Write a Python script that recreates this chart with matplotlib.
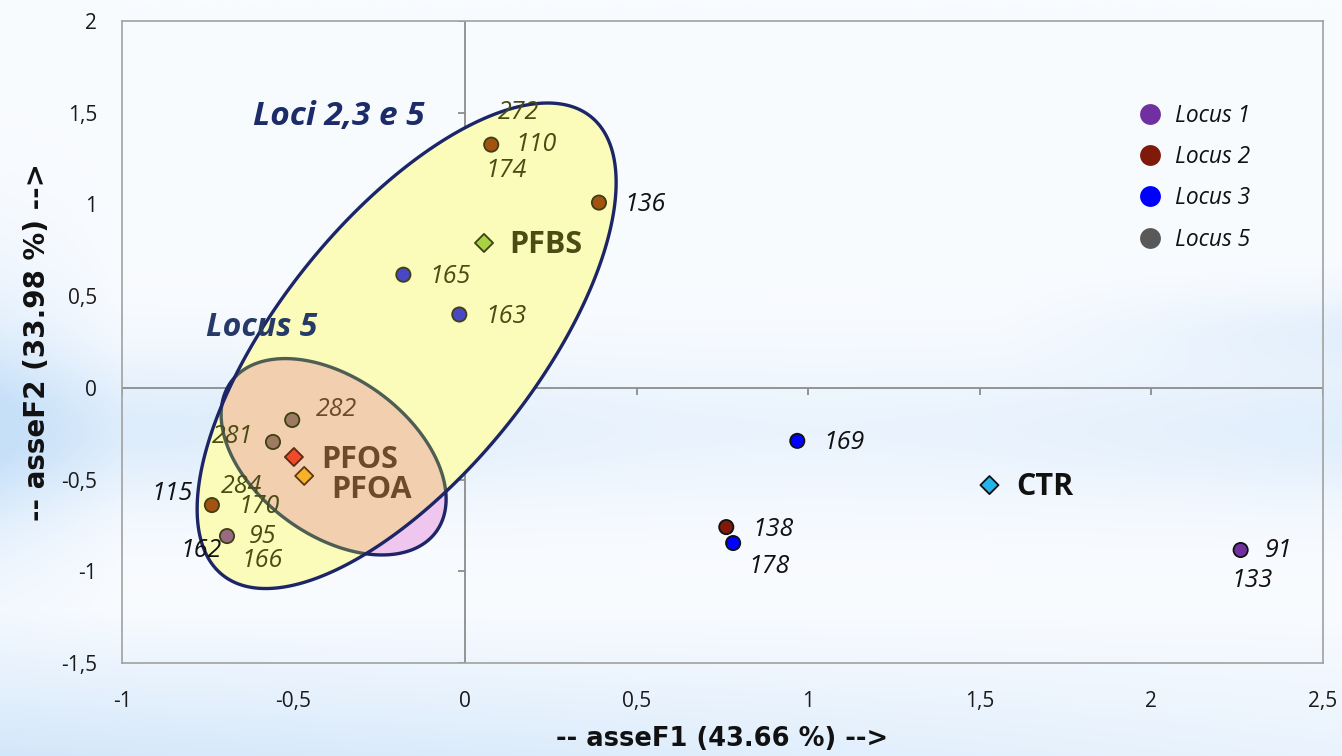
import numpy as np
import matplotlib
matplotlib.use("Agg")
import matplotlib.pyplot as plt
from matplotlib.patches import Polygon
from matplotlib.lines import Line2D

plt.rcParams['font.family'] = ['Open Sans', 'DejaVu Sans']

# ---------------- data ----------------
# sample points (PCA scores)
pt_x = [0.076, 0.39, -0.18, -0.017, -0.504, -0.56, -0.738, -0.694, 0.968, 0.761, 0.781, 2.26]
pt_y = [1.326, 1.01, 0.617, 0.40, -0.175, -0.295, -0.639, -0.808, -0.289, -0.759, -0.846, -0.884]
pt_locus = [2, 2, 3, 3, 5, 5, 2, 1, 3, 2, 3, 1]
# label lines attached to each point: (point index, text)
label_pt = [0, 0, 0, 1, 2, 3, 4, 5, 6, 6, 6, 7, 7, 7, 8, 9, 10, 11, 11]
label_txt = ['272', '110', '174', '136', '165', '163', '282', '281', '115', '284', '170',
             '162', '95', '166', '169', '138', '178', '91', '133']

# treatments
trt_names = ['PFBS', 'PFOS', 'PFOA', 'CTR']
trt_x = [0.055, -0.499, -0.469, 1.528]
trt_y = [0.79, -0.377, -0.48, -0.53]

legend_labels = ['Locus 1', 'Locus 2', 'Locus 3', 'Locus 5']

xticks = [-1, -0.5, 0, 0.5, 1, 1.5, 2, 2.5]
xtick_labels = ['-1', '-0,5', '0', '0,5', '1', '1,5', '2', '2,5']
yticks = [-1.5, -1, -0.5, 0, 0.5, 1, 1.5, 2]
ytick_labels = ['-1,5', '-1', '-0,5', '0', '0,5', '1', '1,5', '2']

xlabel = '-- asseF1 (43.66 %) -->'
ylabel = '-- asseF2 (33.98 %) -->'

# ---------------- styles ----------------
W, H = 1342, 756
DPI = 100
locus_color = {1: '#7030A0', 2: '#7F1A0A', 3: '#0000FF', 5: '#595959'}
pt_face = ['#A3520F', '#A3520F', '#4848C4', '#4848C4', '#9C7B62', '#9C7B62',
           '#A3520F', '#9A6A82', '#0000FF', '#7F1A0A', '#0000FF', '#7030A0']
pt_edge = ['#3F3F14'] * 8 + ['#111111'] * 4
OLIVE, BROWN, BLACK = '#4B4B14', '#6E4A2C', '#111111'
label_style = [  # dx, dy (pixels), ha, colour
    (7, 32, 'left', OLIVE), (24, 0, 'left', OLIVE), (-6, -26, 'left', OLIVE),
    (25, -2, 'left', BLACK), (26, -2, 'left', OLIVE), (26, -2, 'left', OLIVE),
    (24, 10, 'left', BROWN), (-20, 5, 'right', OLIVE),
    (-19, 12, 'right', BLACK), (9, 19, 'left', OLIVE), (26, -1, 'left', OLIVE),
    (-5, -14, 'right', BLACK), (22, 0, 'left', OLIVE), (14, -24, 'left', OLIVE),
    (26, -2, 'left', BLACK), (26, -2, 'left', BLACK), (15, -23, 'left', BLACK),
    (24, 0, 'left', BLACK), (-9, -30, 'left', BLACK)]
trt_face = ['#A6D243', '#F04A28', '#F8B22A', '#22B4EA']
trt_edge = ['#3F3F14', '#5A2A14', '#5A3A14', '#111111']
trt_style = [(25, -2, OLIVE), (27, -3, BROWN), (27, -14, BROWN), (27, -2, BLACK)]

fig = plt.figure(figsize=(W / DPI, H / DPI), dpi=DPI)

# background gradient
bg = fig.add_axes([0, 0, 1, 1], zorder=-5)
yy, xx = np.mgrid[0:H, 0:W]
b = 0.55 * np.exp(-((yy - 430) / 75.0) ** 2) * (0.75 + 0.25 * np.cos(xx / 260.0))
b += 0.35 * np.exp(-((yy - 330) / 40.0) ** 2) * np.clip((xx - 1000) / 342.0, 0, 1)
b += 0.75 * np.clip((yy - 610) / 146.0, 0, 1) * (1 - 0.6 * xx / W)
b += 0.55 * np.clip((120 - xx) / 120.0, 0, 1) * np.exp(-((yy - 420) / 150.0) ** 2)
b = np.clip(b, 0, 1)[..., None]
white = np.array([0.975, 0.985, 1.0])
blue = np.array([0.78, 0.88, 0.975])
img = white * (1 - b) + blue * b
bg.imshow(img, aspect='auto', extent=[0, 1, 0, 1], origin='upper')
bg.axis('off')

L, R, T, B = 122, 1323, 21, 663
ax = fig.add_axes([L / W, 1 - B / H, (R - L) / W, (B - T) / H])
ax.set_facecolor('none')
ax.set_xlim(-1, 2.5)
ax.set_ylim(-1.5, 2)
for s in ax.spines.values():
    s.set_color('#A0A0A0')
    s.set_linewidth(1.2)
ax.set_xticks(xticks)
ax.set_xticklabels(xtick_labels)
ax.set_yticks(yticks)
ax.set_yticklabels(ytick_labels)
ax.tick_params(length=0, labelsize=15, colors='#1A1A1A')
ax.tick_params(axis='x', pad=20)
ax.tick_params(axis='y', pad=18)
ax.set_xlabel(xlabel, fontsize=18.5, fontweight='bold', color='#111111', labelpad=10,
              family='DejaVu Sans')
ax.set_ylabel(ylabel, fontsize=20, fontweight='bold', color='#111111', labelpad=7,
              family='DejaVu Sans')

# zero axes with tick marks
ax.axhline(0, color='#8C8C8C', lw=1.3, zorder=1)
ax.axvline(0, color='#8C8C8C', lw=1.3, zorder=1)
sx = (R - L) / 3.5   # pixels per x unit
sy = (B - T) / 3.5   # pixels per y unit
tk = 7
ax.vlines(xticks, 0, -tk / sy, color='#8C8C8C', lw=1.3, zorder=1)
ax.hlines(yticks, -tk / sx, 0, color='#8C8C8C', lw=1.3, zorder=1)


def ellipse_xy(cx, cy, a_px, b_px, ang):
    t = np.linspace(0, 2 * np.pi, 400)
    th = np.deg2rad(ang)
    ex = a_px * np.cos(t) * np.cos(th) - b_px * np.sin(t) * np.sin(th)
    ey = a_px * np.cos(t) * np.sin(th) + b_px * np.sin(t) * np.cos(th)
    return np.column_stack([cx + ex / sx, cy + ey / sy])


big = ellipse_xy(-0.1705, 0.2294, 294, 128, 51.2)
small = ellipse_xy(-0.3833, -0.3757, 127, 78.5, -36.2)
NAVY = '#1B2568'

ax.add_patch(Polygon(small, closed=True, fc='#EEC6EE', ec=NAVY, lw=2.4, zorder=2))
big_fill = Polygon(big, closed=True, fc='#FBFBBA', ec='none', zorder=3)
ax.add_patch(big_fill)
p = Polygon(small, closed=True, fc='#F2CFAE', ec='#4E5E52', lw=2.4, zorder=4)
ax.add_patch(p)
p.set_clip_path(big_fill)
ax.add_patch(Polygon(big, closed=True, fc='none', ec=NAVY, lw=2.4, zorder=5))

# sample points
ax.scatter(pt_x, pt_y, s=105, c=pt_face, edgecolors=pt_edge, linewidths=1.3, zorder=6)
for i, (pi, txt) in enumerate(zip(label_pt, label_txt)):
    dx, dy, ha, col = label_style[i]
    ax.annotate(txt, (pt_x[pi], pt_y[pi]), xytext=(dx, dy), textcoords='offset pixels',
                ha=ha, va='center', fontsize=18, style='italic', color=col, zorder=7)

# treatments
ax.scatter(trt_x, trt_y, s=85, marker='D', c=trt_face, edgecolors=trt_edge, linewidths=1.3, zorder=6)
for i, name in enumerate(trt_names):
    dx, dy, col = trt_style[i]
    ax.annotate(name, (trt_x[i], trt_y[i]), xytext=(dx, dy), textcoords='offset pixels',
                ha='left', va='center', fontsize=22, fontweight='bold', color=col, zorder=7)

# ellipse titles
ax.text(-0.618, 1.48, 'Loci 2,3 e 5', fontsize=24, fontweight='bold', style='italic',
        color='#1C2C68', ha='left', va='center', zorder=7)
ax.text(-0.755, 0.328, 'Locus 5', fontsize=23, fontweight='bold', style='italic',
        color='#253A66', ha='left', va='center', zorder=7)

# legend
handles = [Line2D([], [], ls='none', marker='o', ms=15, mfc=locus_color[k], mec='none')
           for k in (1, 2, 3, 5)]
leg = ax.legend(handles, legend_labels, loc='upper left', bbox_to_anchor=(0.8373, 0.889),
                frameon=False, prop={'size': 16.4, 'style': 'italic'}, labelspacing=0.76,
                handlelength=1.0, handletextpad=0.6, borderpad=0)
for t in leg.get_texts():
    t.set_color('#111111')

fig.savefig('out.png', dpi=DPI)
